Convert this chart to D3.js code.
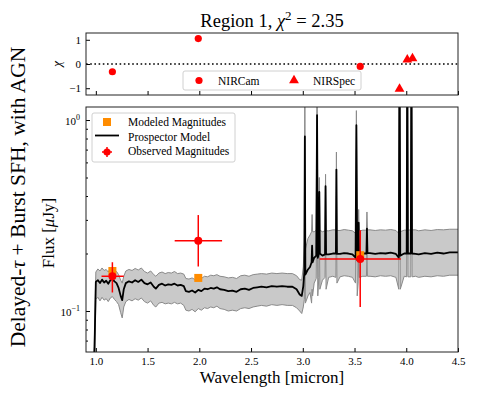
<!DOCTYPE html>
<html>
<head>
<meta charset="utf-8">
<script src="https://cdn.jsdelivr.net/npm/d3@7"></script>
<style>
  body { margin: 0; background: #fff; }
  svg text { font-family: "Liberation Serif", "DejaVu Serif", serif; fill: #000; }
</style>
</head>
<body>
<div id="chart"></div>
<script>
// photometry (wavelength in micron, flux in uJy)
const photWave = [1.16, 1.99, 3.555];
const photWaveLo = [1.055, 1.762, 3.163];
const photWaveHi = [1.27, 2.22, 3.947];
const obsFlux = [0.152, 0.233, 0.187];
const obsFluxLo = [0.125, 0.171, 0.105];
const obsFluxHi = [0.18, 0.318, 0.265];
const modelFlux = [0.162, 0.149, 0.196];

// residuals
const chiCamWave = [1.16, 1.99, 3.555];
const chiCam = [-0.32, 1.05, -0.1];
const chiSpecWave = [3.935, 4.01, 4.06];
const chiSpec = [-1.03, 0.18, 0.23];

// prospector model spectrum: median and 16/84 percentiles
const specWave = [0.95, 0.985, 1.0, 1.02, 1.04, 1.06, 1.08, 1.10, 1.12, 1.14, 1.16, 1.18, 1.20, 1.22, 1.24, 1.255, 1.27, 1.29,
  1.32, 1.35, 1.38, 1.41, 1.44, 1.47, 1.50, 1.53, 1.56, 1.58, 1.61, 1.64, 1.67, 1.70, 1.73, 1.76, 1.79, 1.82, 1.85, 1.87,
  1.90, 1.93, 1.96, 1.99, 2.02, 2.05, 2.08, 2.11, 2.14, 2.17, 2.20, 2.24, 2.28, 2.32, 2.36, 2.40, 2.44, 2.48, 2.52, 2.56,
  2.60, 2.65, 2.70, 2.75, 2.80, 2.85, 2.90, 2.94, 2.97, 2.99, 3.005, 3.015, 3.02, 3.025, 3.05, 3.07, 3.085, 3.09, 3.095,
  3.11, 3.13, 3.138, 3.145, 3.155, 3.16, 3.165, 3.19, 3.215, 3.22, 3.225, 3.25, 3.29, 3.32, 3.325, 3.33, 3.36, 3.40, 3.44,
  3.48, 3.51, 3.518, 3.526, 3.535, 3.54, 3.545, 3.58, 3.615, 3.62, 3.625, 3.65, 3.70, 3.75, 3.80, 3.85, 3.90, 3.928,
  3.935, 3.942, 3.98, 4.004, 4.01, 4.016, 4.044, 4.05, 4.056, 4.09, 4.12, 4.18, 4.24, 4.30, 4.36, 4.42, 4.5];
const specMed = [0.03, 0.055, 0.142, 0.145, 0.14, 0.146, 0.141, 0.144, 0.139, 0.145, 0.147, 0.143, 0.14, 0.132, 0.12, 0.114, 0.13, 0.14,
  0.143, 0.141, 0.145, 0.142, 0.146, 0.14, 0.138, 0.141, 0.134, 0.131, 0.137, 0.139, 0.136, 0.138, 0.137, 0.139, 0.136, 0.137, 0.135, 0.127,
  0.126, 0.128, 0.125, 0.129, 0.127, 0.131, 0.13, 0.132, 0.131, 0.133, 0.13, 0.129, 0.127, 0.128, 0.126, 0.13, 0.131, 0.129, 0.132, 0.133,
  0.134, 0.133, 0.135, 0.134, 0.135, 0.134, 0.134, 0.13, 0.122, 0.12, 0.135, 0.16, 0.82, 0.155, 0.165, 0.17, 0.18, 0.22, 0.18,
  0.19, 0.195, 1.06, 0.19, 0.2, 0.42, 0.2, 0.195, 0.198, 0.45, 0.198, 0.198, 0.2, 0.2, 0.55, 0.199, 0.199, 0.201, 0.2,
  0.198, 0.19, 0.94, 0.185, 0.19, 0.29, 0.195, 0.2, 0.2, 0.27, 0.201, 0.201, 0.199, 0.201, 0.2, 0.202, 0.199, 0.19,
  3.0, 0.195, 0.2, 0.2, 3.0, 0.2, 0.2, 3.0, 0.2, 0.199, 0.198, 0.201, 0.199, 0.202, 0.2, 0.203, 0.203];
const specLo = [0.02, 0.045, 0.115, 0.118, 0.113, 0.118, 0.114, 0.116, 0.112, 0.117, 0.119, 0.115, 0.112, 0.108, 0.098, 0.092, 0.105, 0.112,
  0.115, 0.113, 0.116, 0.114, 0.117, 0.112, 0.11, 0.113, 0.107, 0.105, 0.11, 0.111, 0.109, 0.11, 0.109, 0.111, 0.109, 0.11, 0.107, 0.101,
  0.1, 0.102, 0.099, 0.103, 0.101, 0.104, 0.103, 0.105, 0.104, 0.106, 0.103, 0.102, 0.1, 0.101, 0.1, 0.103, 0.104, 0.103, 0.105, 0.106,
  0.107, 0.106, 0.108, 0.107, 0.108, 0.107, 0.107, 0.104, 0.1, 0.097, 0.105, 0.115, 0.5, 0.11, 0.12, 0.125, 0.11, 0.13, 0.12,
  0.14, 0.148, 0.7, 0.12, 0.15, 0.3, 0.13, 0.145, 0.15, 0.3, 0.13, 0.15, 0.152, 0.15, 0.4, 0.14, 0.151, 0.153, 0.152,
  0.15, 0.14, 0.7, 0.12, 0.14, 0.2, 0.15, 0.152, 0.152, 0.2, 0.152, 0.152, 0.151, 0.153, 0.152, 0.153, 0.15, 0.13,
  2.0, 0.13, 0.152, 0.151, 2.0, 0.151, 0.151, 2.0, 0.151, 0.152, 0.15, 0.152, 0.151, 0.153, 0.152, 0.154, 0.154];
const specHi = [0.04, 0.065, 0.16, 0.166, 0.162, 0.168, 0.163, 0.165, 0.16, 0.167, 0.169, 0.164, 0.161, 0.155, 0.145, 0.14, 0.152, 0.162,
  0.165, 0.163, 0.167, 0.164, 0.168, 0.161, 0.158, 0.162, 0.155, 0.152, 0.158, 0.16, 0.157, 0.159, 0.158, 0.161, 0.157, 0.158, 0.156, 0.148,
  0.147, 0.149, 0.146, 0.15, 0.148, 0.152, 0.151, 0.154, 0.153, 0.155, 0.152, 0.151, 0.149, 0.15, 0.148, 0.153, 0.154, 0.152, 0.155, 0.156,
  0.157, 0.156, 0.158, 0.157, 0.158, 0.157, 0.157, 0.153, 0.146, 0.145, 0.17, 0.23, 2.0, 0.21, 0.24, 0.25, 0.26, 0.32, 0.26,
  0.26, 0.265, 2.0, 0.262, 0.265, 0.5, 0.265, 0.26, 0.263, 0.52, 0.263, 0.263, 0.266, 0.266, 0.68, 0.264, 0.264, 0.267, 0.265,
  0.263, 0.255, 1.12, 0.255, 0.26, 0.34, 0.262, 0.265, 0.265, 0.33, 0.266, 0.266, 0.264, 0.266, 0.265, 0.267, 0.264, 0.255,
  4.0, 0.26, 0.265, 0.265, 4.0, 0.265, 0.266, 4.0, 0.266, 0.266, 0.263, 0.266, 0.264, 0.267, 0.266, 0.268, 0.268];

const xTicks = [1.0, 1.5, 2.0, 2.5, 3.0, 3.5, 4.0, 4.5];
const chiTicks = [-1, 0, 1];
const fluxMajor = [0.1, 1];
const fluxMinor = [0.07, 0.08, 0.09, 0.2, 0.3, 0.4, 0.5, 0.6, 0.7, 0.8, 0.9];

const WIDTH = 478;
const HEIGHT = 399;
const chiBox = { left: 86, right: 458, top: 33, bottom: 95 };
const mainBox = { left: 86, right: 458, top: 107, bottom: 352 };
const RED = "#ff0000";
const ORANGE = "#ff8c00";
const SERIF = "'Liberation Serif', 'DejaVu Serif', serif";

const svg = d3
  .select("#chart")
  .append("svg")
  .attr("width", WIDTH)
  .attr("height", HEIGHT)
  .style("font-family", SERIF);

const x = d3.scaleLinear().domain([0.905, 4.5]).range([mainBox.left, mainBox.right]);
const yChi = d3.scaleLinear().domain([-1.28, 1.28]).range([chiBox.bottom, chiBox.top]);
const yFlux = d3.scaleLog().domain([0.061, 1.17]).range([mainBox.bottom, mainBox.top]);

svg.append("defs")
  .append("clipPath")
  .attr("id", "mainClip")
  .append("rect")
  .attr("x", mainBox.left)
  .attr("y", mainBox.top)
  .attr("width", mainBox.right - mainBox.left)
  .attr("height", mainBox.bottom - mainBox.top);

// title
const title = svg.append("text")
  .attr("x", (mainBox.left + mainBox.right) / 2)
  .attr("y", 27)
  .attr("text-anchor", "middle")
  .style("font-size", "18.5px");
title.append("tspan").text("Region 1, ");
title.append("tspan").style("font-style", "italic").text("χ");
title.append("tspan").attr("dy", -7).style("font-size", "13px").text("2");
title.append("tspan").attr("dy", 7).text(" = 2.35");

// ---------- chi panel ----------
const chi = svg.append("g");

chi.append("line")
  .attr("x1", chiBox.left)
  .attr("x2", chiBox.right)
  .attr("y1", yChi(0))
  .attr("y2", yChi(0))
  .attr("stroke", "#000")
  .attr("stroke-width", 1.6)
  .attr("stroke-dasharray", "1.6,2.6");

chi.selectAll(".cam")
  .data(chiCamWave)
  .enter()
  .append("circle")
  .attr("cx", d => x(d))
  .attr("cy", (d, i) => yChi(chiCam[i]))
  .attr("r", 3.6)
  .attr("fill", RED);

const tri = d3.symbol().type(d3.symbolTriangle).size(42);
chi.selectAll(".spec")
  .data(chiSpecWave)
  .enter()
  .append("path")
  .attr("d", tri)
  .attr("transform", (d, i) => `translate(${x(d)},${yChi(chiSpec[i])})`)
  .attr("fill", RED);

// chi legend
const chiLeg = chi.append("g").attr("transform", "translate(183,71)");
chiLeg.append("rect")
  .attr("width", 178)
  .attr("height", 19)
  .attr("rx", 2)
  .attr("fill", "#fff")
  .attr("fill-opacity", 0.85)
  .attr("stroke", "#d0d0d0");
chiLeg.append("circle").attr("cx", 16).attr("cy", 9.5).attr("r", 3.6).attr("fill", RED);
chiLeg.append("text").attr("x", 35).attr("y", 13.5).style("font-size", "11.5px").text("NIRCam");
chiLeg.append("path").attr("d", tri).attr("transform", "translate(111,9.5)").attr("fill", RED);
chiLeg.append("text").attr("x", 130).attr("y", 13.5).style("font-size", "11.5px").text("NIRSpec");

// chi axes
chi.append("g")
  .attr("transform", `translate(0,${chiBox.bottom})`)
  .call(d3.axisBottom(x).tickValues(xTicks).tickSizeInner(-4).tickSizeOuter(0).tickFormat(""))
  .call(g => g.select(".domain").remove());

chi.append("g")
  .attr("transform", `translate(${chiBox.left},0)`)
  .call(d3.axisLeft(yChi).tickValues(chiTicks).tickSizeInner(-4).tickSizeOuter(0).tickPadding(5)
    .tickFormat(d => (d < 0 ? "\u2212" + Math.abs(d) : d)))
  .call(g => g.select(".domain").remove())
  .selectAll("text")
  .style("font-family", SERIF)
  .style("font-size", "11px");

chi.append("rect")
  .attr("x", chiBox.left)
  .attr("y", chiBox.top)
  .attr("width", chiBox.right - chiBox.left)
  .attr("height", chiBox.bottom - chiBox.top)
  .attr("fill", "none")
  .attr("stroke", "#222")
  .attr("stroke-width", 1);

chi.append("text")
  .attr("transform", `translate(61,${yChi(0)}) rotate(-90)`)
  .attr("text-anchor", "middle")
  .style("font-size", "13px")
  .style("font-style", "italic")
  .text("χ");

// ---------- main panel ----------
const main = svg.append("g");
const spec = specWave.map((w, i) => ({ w, med: specMed[i], lo: specLo[i], hi: specHi[i] }));

const plot = main.append("g").attr("clip-path", "url(#mainClip)");

plot.append("path")
  .datum(spec)
  .attr("d", d3.area().x(d => x(d.w)).y0(d => yFlux(d.lo)).y1(d => yFlux(d.hi)))
  .attr("fill", "#c9c9c9");

["lo", "hi"].forEach(k => {
  plot.append("path")
    .datum(spec)
    .attr("d", d3.line().x(d => x(d.w)).y(d => yFlux(d[k])))
    .attr("fill", "none")
    .attr("stroke", "#8a8a8a")
    .attr("stroke-width", 1);
});

plot.append("path")
  .datum(spec)
  .attr("d", d3.line().x(d => x(d.w)).y(d => yFlux(d.med)))
  .attr("fill", "none")
  .attr("stroke", "#000")
  .attr("stroke-width", 1.8)
  .attr("stroke-linejoin", "round");

// modeled magnitudes
plot.selectAll(".model")
  .data(photWave)
  .enter()
  .append("rect")
  .attr("x", d => x(d) - 4)
  .attr("y", (d, i) => yFlux(modelFlux[i]) - 4)
  .attr("width", 8)
  .attr("height", 8)
  .attr("fill", ORANGE);

// observed magnitudes with error bars
const obs = plot.selectAll(".obs")
  .data(photWave)
  .enter()
  .append("g");

obs.append("line")
  .attr("x1", (d, i) => x(photWaveLo[i]))
  .attr("x2", (d, i) => x(photWaveHi[i]))
  .attr("y1", (d, i) => yFlux(obsFlux[i]))
  .attr("y2", (d, i) => yFlux(obsFlux[i]))
  .attr("stroke", RED)
  .attr("stroke-width", 1.5);

obs.append("line")
  .attr("x1", d => x(d))
  .attr("x2", d => x(d))
  .attr("y1", (d, i) => yFlux(obsFluxLo[i]))
  .attr("y2", (d, i) => yFlux(obsFluxHi[i]))
  .attr("stroke", RED)
  .attr("stroke-width", 1.5);

obs.append("circle")
  .attr("cx", d => x(d))
  .attr("cy", (d, i) => yFlux(obsFlux[i]))
  .attr("r", 4)
  .attr("fill", RED);

// main axes
main.append("g")
  .attr("transform", `translate(0,${mainBox.bottom})`)
  .call(d3.axisBottom(x).tickValues(xTicks).tickSizeInner(-4).tickSizeOuter(0).tickPadding(5)
    .tickFormat(d3.format(".1f")))
  .call(g => g.select(".domain").remove())
  .selectAll("text")
  .style("font-family", SERIF)
  .style("font-size", "11px");

const yAxisG = main.append("g").attr("transform", `translate(${mainBox.left},0)`);
yAxisG.call(d3.axisLeft(yFlux).tickValues(fluxMinor).tickSizeInner(-2).tickSizeOuter(0).tickFormat(""))
  .call(g => g.select(".domain").remove());

const majorG = main.append("g").attr("transform", `translate(${mainBox.left},0)`);
majorG.call(d3.axisLeft(yFlux).tickValues(fluxMajor).tickSizeInner(-4).tickSizeOuter(0).tickFormat(""))
  .call(g => g.select(".domain").remove());
majorG.selectAll(".tick").each(function(d) {
  const t = d3.select(this).append("text")
    .attr("x", -6)
    .attr("y", 4)
    .attr("text-anchor", "end")
    .style("font-size", "11px");
  t.append("tspan").text("10");
  t.append("tspan").attr("dy", -5).style("font-size", "8px").text(d === 1 ? "0" : "\u22121");
});

main.append("rect")
  .attr("x", mainBox.left)
  .attr("y", mainBox.top)
  .attr("width", mainBox.right - mainBox.left)
  .attr("height", mainBox.bottom - mainBox.top)
  .attr("fill", "none")
  .attr("stroke", "#222")
  .attr("stroke-width", 1);

// main legend
const leg = main.append("g").attr("transform", "translate(92,113)");
leg.append("rect")
  .attr("width", 143)
  .attr("height", 49)
  .attr("rx", 2)
  .attr("fill", "#fff")
  .attr("fill-opacity", 0.85)
  .attr("stroke", "#d0d0d0");
leg.append("rect").attr("x", 11).attr("y", 5).attr("width", 8).attr("height", 8).attr("fill", ORANGE);
leg.append("line").attr("x1", 3).attr("x2", 27).attr("y1", 22.5).attr("y2", 22.5)
  .attr("stroke", "#000").attr("stroke-width", 1.8);
leg.append("line").attr("x1", 10).attr("x2", 20).attr("y1", 39).attr("y2", 39)
  .attr("stroke", RED).attr("stroke-width", 1.5);
leg.append("line").attr("x1", 15).attr("x2", 15).attr("y1", 34).attr("y2", 44)
  .attr("stroke", RED).attr("stroke-width", 1.5);
leg.append("circle").attr("cx", 15).attr("cy", 39).attr("r", 3.6).attr("fill", RED);
const legText = ["Modeled Magnitudes", "Prospector Model", "Observed Magnitudes"];
leg.selectAll(".lt")
  .data(legText)
  .enter()
  .append("text")
  .attr("x", 36)
  .attr("y", (d, i) => 13 + i * 14.5)
  .style("font-size", "11.5px")
  .text(d => d);

// axis labels
main.append("text")
  .attr("x", (mainBox.left + mainBox.right) / 2)
  .attr("y", 383)
  .attr("text-anchor", "middle")
  .style("font-size", "17px")
  .text("Wavelength [micron]");

const fluxLabel = main.append("text")
  .attr("transform", "translate(54,233) rotate(-90)")
  .attr("text-anchor", "middle")
  .style("font-size", "17px");
fluxLabel.append("tspan").text("Flux [");
fluxLabel.append("tspan").style("font-style", "italic").text("μ");
fluxLabel.append("tspan").text("Jy]");

const sfhLabel = svg.append("text")
  .attr("transform", "translate(25,197) rotate(-90)")
  .attr("text-anchor", "middle")
  .style("font-size", "21.5px");
sfhLabel.append("tspan").text("Delayed-");
sfhLabel.append("tspan").style("font-style", "italic").text("τ");
sfhLabel.append("tspan").text(" + Burst SFH, with AGN");
</script>
</body>
</html>
